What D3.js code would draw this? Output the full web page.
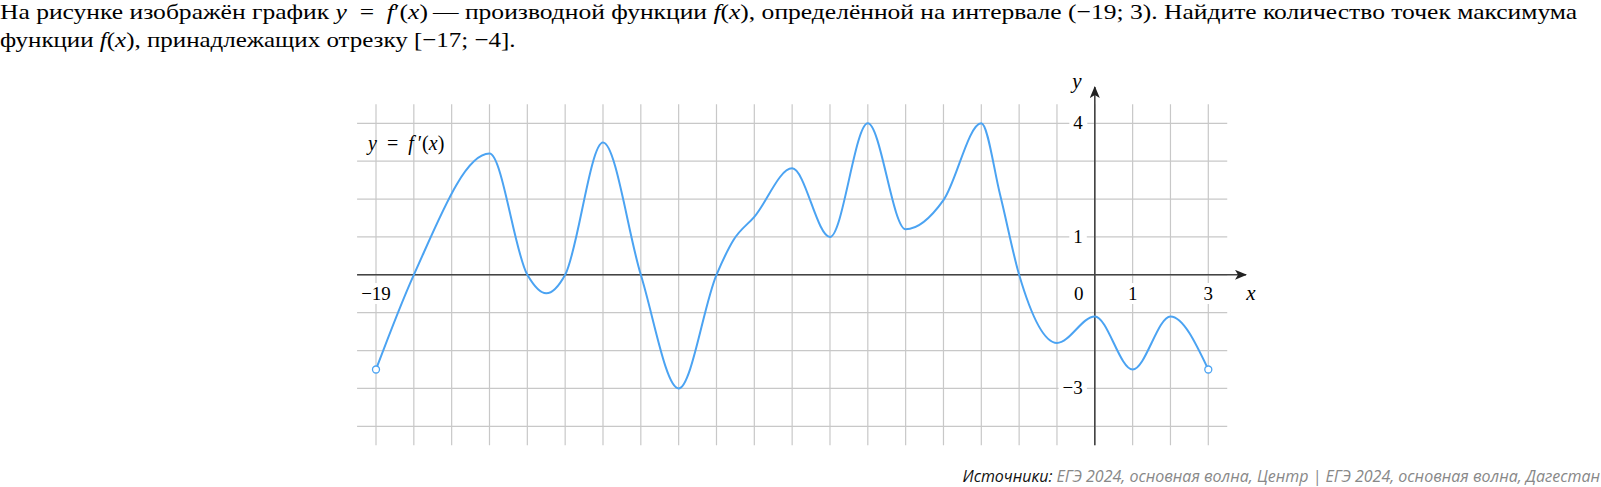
<!DOCTYPE html>
<html>
<head>
<meta charset="utf-8">
<script src="https://cdn.jsdelivr.net/npm/d3@7"></script>
<style>
  body { margin: 0; background: #fff; }
  svg { display: block; }
</style>
</head>
<body>
<script>
var width = 1601,
    height = 487;

// key points of y = f'(x) (extrema, zeros, shoulders)
var curveX = [-19, -18, -16, -15, -14.5, -14, -13, -12, -11, -10, -9.55, -9, -8, -7, -6, -5, -4, -3, -2.5, -2, -1, 0, 1, 2, 3];
var curveY = [-2.5, 0, 3.2, 0, -0.49, 0, 3.49, 0, -3, 0, 0.92, 1.53, 2.81, 1.0, 4, 1.2, 1.97, 4, 2.1, 0, -1.8, -1.1, -2.5, -1.1, -2.5];

var xTicks = [-19, 0, 1, 3];
var xTickText = ["\u221219", "0", "1", "3"];
var yTicks = [4, 1, -3];
var yTickText = ["4", "1", "\u22123"];

var svg = d3.select("body").append("svg")
    .attr("width", width)
    .attr("height", height);

var x = d3.scaleLinear().domain([-19, 3]).range([376, 1208.3]);
var y = d3.scaleLinear().domain([-4, 4]).range([426.3, 123.3]);

// question text
var serif = "'Liberation Serif', 'Times New Roman', serif";
var line1 = [["На рисунке изображён график ", 0], ["y", 1], ["\u2002=\u2002", 0], ["f", 1], ["\u2032(", 0], ["x", 1], [")", 0],
             ["\u2009\u2014 производной функции ", 0], ["f", 1], ["(", 0], ["x", 1], ["), определённой на интервале (\u221219; 3). Найдите количество точек максимума", 0]];
var line2 = [["функции ", 0], ["f", 1], ["(", 0], ["x", 1], ["), принадлежащих отрезку [\u221217; \u22124].", 0]];

[[line1, 19, 1578], [line2, 47, 516]].forEach(function(l) {
  var t = svg.append("text")
      .attr("x", 0)
      .attr("y", l[1])
      .style("font-family", serif)
      .style("font-size", "22px")
      .style("fill", "#000");
  t.selectAll("tspan").data(l[0]).enter().append("tspan")
      .style("font-style", function(d){ return d[1] ? "italic" : "normal"; })
      .text(function(d){ return d[0]; });
  var w = t.node().getComputedTextLength();
  t.attr("transform", "scale(" + (l[2] / w) + ",1)");
});

// grid
var grid = svg.append("g").attr("stroke", "#c8c8c8").attr("stroke-width", 1.2);
grid.selectAll("line.v").data(d3.range(-19, 4)).enter().append("line")
    .attr("x1", function(d){ return x(d); })
    .attr("x2", function(d){ return x(d); })
    .attr("y1", y(4.5))
    .attr("y2", y(-4.5));
grid.selectAll("line.h").data(d3.range(-4, 5)).enter().append("line")
    .attr("x1", x(-19.5))
    .attr("x2", x(3.5))
    .attr("y1", function(d){ return y(d); })
    .attr("y2", function(d){ return y(d); });

var labelFont = "'Liberation Serif', 'DejaVu Serif', serif";

// x tick labels (white background over the grid)
var xl = svg.append("g");
xl.selectAll("text").data(xTicks).enter().append("text")
    .attr("x", function(d){ return d === 0 ? x(0) - 16 : x(d); })
    .attr("y", 300)
    .attr("text-anchor", "middle")
    .style("font-family", labelFont)
    .style("font-size", "19px")
    .text(function(d, i){ return xTickText[i]; })
    .each(function() {
      var b = this.getBBox();
      d3.select(this.parentNode).insert("rect", function(){ return this.firstChild; })
          .attr("x", b.x - 3).attr("y", b.y).attr("width", b.width + 6).attr("height", b.height)
          .attr("fill", "#fff");
    });

// y tick labels
var yl = svg.append("g");
yl.selectAll("text").data(yTicks).enter().append("text")
    .attr("x", x(0) - 12)
    .attr("y", function(d){ return y(d) + 6; })
    .attr("text-anchor", "end")
    .style("font-family", labelFont)
    .style("font-size", "19px")
    .text(function(d, i){ return yTickText[i]; })
    .each(function() {
      var b = this.getBBox();
      d3.select(this.parentNode).insert("rect", function(){ return this.firstChild; })
          .attr("x", b.x - 4).attr("y", b.y - 3).attr("width", b.width + 8).attr("height", b.height + 6)
          .attr("fill", "#fff");
    });

// axes
var defs = svg.append("defs");
defs.append("marker")
    .attr("id", "arrow")
    .attr("viewBox", "0 0 12 10")
    .attr("refX", 11)
    .attr("refY", 5)
    .attr("markerWidth", 12)
    .attr("markerHeight", 10)
    .attr("markerUnits", "userSpaceOnUse")
    .attr("orient", "auto")
  .append("path")
    .attr("d", "M0,0 L12,5 L0,10 L3,5 Z")
    .attr("fill", "#222");

svg.append("line")
    .attr("x1", x(-19.5)).attr("x2", 1246)
    .attr("y1", y(0)).attr("y2", y(0))
    .attr("stroke", "#444").attr("stroke-width", 1.6)
    .attr("marker-end", "url(#arrow)");
svg.append("line")
    .attr("x1", x(0)).attr("x2", x(0))
    .attr("y1", y(-4.5)).attr("y2", 87)
    .attr("stroke", "#444").attr("stroke-width", 1.6)
    .attr("marker-end", "url(#arrow)");

svg.append("text")
    .attr("x", 1251).attr("y", 300)
    .attr("text-anchor", "middle")
    .style("font-family", labelFont).style("font-style", "italic").style("font-size", "21px")
    .text("x");
svg.append("text")
    .attr("x", 1077).attr("y", 88)
    .attr("text-anchor", "middle")
    .style("font-family", labelFont).style("font-style", "italic").style("font-size", "21px")
    .text("y");

// function label
var fl = svg.append("text")
    .attr("x", 368).attr("y", 150)
    .style("font-family", labelFont)
    .style("font-size", "20px");
fl.selectAll("tspan").data([["y", 1], ["\u2002=\u2002", 0], ["f", 1], ["\u2009\u2032(", 0], ["x", 1], [")", 0]]).enter().append("tspan")
    .style("font-style", function(d){ return d[1] ? "italic" : "normal"; })
    .text(function(d){ return d[0]; });

// curve
var pts = curveX.map(function(d, i){ return [d, curveY[i]]; });
var line = d3.line()
    .x(function(d){ return x(d[0]); })
    .y(function(d){ return y(d[1]); })
    .curve(d3.curveMonotoneX);

svg.append("path")
    .datum(pts)
    .attr("d", line)
    .attr("fill", "none")
    .attr("stroke", "#4ba3f2")
    .attr("stroke-width", 2);

svg.selectAll("circle.end").data([pts[0], pts[pts.length - 1]]).enter().append("circle")
    .attr("cx", function(d){ return x(d[0]); })
    .attr("cy", function(d){ return y(d[1]); })
    .attr("r", 3.5)
    .attr("fill", "#fff")
    .attr("stroke", "#4ba3f2")
    .attr("stroke-width", 1.3);

// sources
var src = svg.append("text")
    .attr("x", 1600).attr("y", 482)
    .attr("text-anchor", "end")
    .style("font-family", "'Open Sans', sans-serif")
    .style("font-style", "italic")
    .style("font-size", "16px");
src.append("tspan").style("fill", "#111").text("Источники: ");
src.append("tspan").style("fill", "#888").text("ЕГЭ 2024, основная волна, Центр | ЕГЭ 2024, основная волна, Дагестан");
</script>
</body>
</html>
